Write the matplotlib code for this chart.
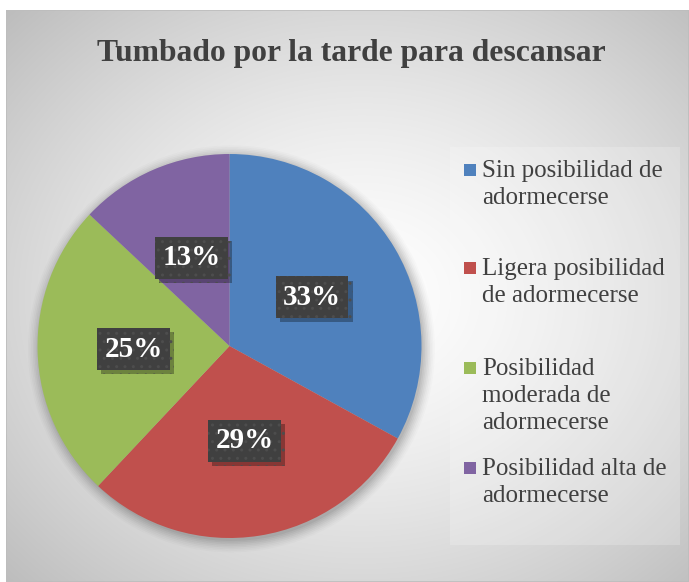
import numpy as np
import matplotlib.pyplot as plt
from matplotlib.patches import Rectangle, Circle
from matplotlib import patheffects

# datos
categorias = ['Sin posibilidad de\nadormecerse',
              'Ligera posibilidad\nde adormecerse',
              'Posibilidad\nmoderada de\nadormecerse',
              'Posibilidad alta de\nadormecerse']
valores = [33, 29, 25, 13]
colores = ['#4F81BD', '#C0504D', '#9BBB59', '#8064A2']
titulo = 'Tumbado por la tarde para descansar'

W, H = 689, 582
fig = plt.figure(figsize=(W / 100, H / 100), dpi=100)
fig.patch.set_facecolor('white')

# fondo con degradado radial
bg = fig.add_axes([6 / W, 0, (W - 6) / W, (H - 10) / H])
ny, nx = 286, 342
yy, xx = np.mgrid[0:ny, 0:nx]
d = np.hypot((xx - nx * 0.52) / (nx * 0.5), (yy - ny * 0.5) / (ny * 0.5))
d = d / d.max()
g = 1.0 - 0.26 * d ** 1.4
bg.imshow(np.dstack([g, g, g]), aspect='auto', extent=[0, 1, 0, 1], interpolation='bilinear')
bg.add_patch(Rectangle((0, 0), 1, 1, transform=bg.transAxes, fill=False,
                       edgecolor='#bdbdbd', linewidth=1.2))
bg.set_xlim(0, 1)
bg.set_ylim(0, 1)
bg.axis('off')

# tarta
cx, cy, r = 229.5, H - 346, 192
ax = fig.add_axes([(cx - r) / W, (cy - r) / H, 2 * r / W, 2 * r / H])

wedges, texts, autotexts = ax.pie(valores, colors=colores, startangle=90, counterclock=False,
                                  autopct=lambda p: f'{p:.0f}%', pctdistance=0.5,
                                  radius=1.0, wedgeprops=dict(linewidth=0))
ax.set_xlim(-1, 1)
ax.set_ylim(-1, 1)
ax.set_aspect('equal')
ax.axis('off')

# sombra suave alrededor de la tarta
for k, a in zip(np.linspace(1.06, 1.0, 8), np.linspace(0.015, 0.05, 8)):
    ax.add_patch(Circle((0.01, -0.015), k, color='black', alpha=a, linewidth=0,
                        zorder=0, clip_on=False))

for t in autotexts:
    t.set_fontfamily('Liberation Serif')
    t.set_fontweight('bold')
    t.set_fontsize(21)
    t.set_color('white')
    t.set_bbox(dict(boxstyle='square,pad=0.25', facecolor='#404040', edgecolor='#4d4d4d',
                    hatch='..', linewidth=0))
    t.get_bbox_patch().set_path_effects([
        patheffects.SimplePatchShadow(offset=(3, -3), shadow_rgbFace='black', alpha=0.3),
        patheffects.Normal()])
    t.set_zorder(5)

# titulo
fig.text(351 / W, 1 - 53 / H, titulo, ha='center', va='center', fontsize=22.8,
         fontweight='bold', color='#404040', fontfamily='Liberation Serif')

# leyenda
fig.patches.append(Rectangle((450 / W, 1 - 545 / H), 230 / W, 398 / H, transform=fig.transFigure,
                             facecolor='white', alpha=0.2, linewidth=0))
filas = [170, 268, 368, 468]
for lab, col, y0 in zip(categorias, colores, filas):
    fig.patches.append(Rectangle((464 / W, 1 - (y0 + 6) / H), 12 / W, 12 / H,
                                 transform=fig.transFigure, facecolor=col, linewidth=0))
    fig.text(482 / W, 1 - (y0 - 10) / H, lab, ha='left', va='top', fontsize=18,
             color='#404040', fontfamily='Liberation Serif', linespacing=1.3)

fig.savefig('out.png', dpi=100)
